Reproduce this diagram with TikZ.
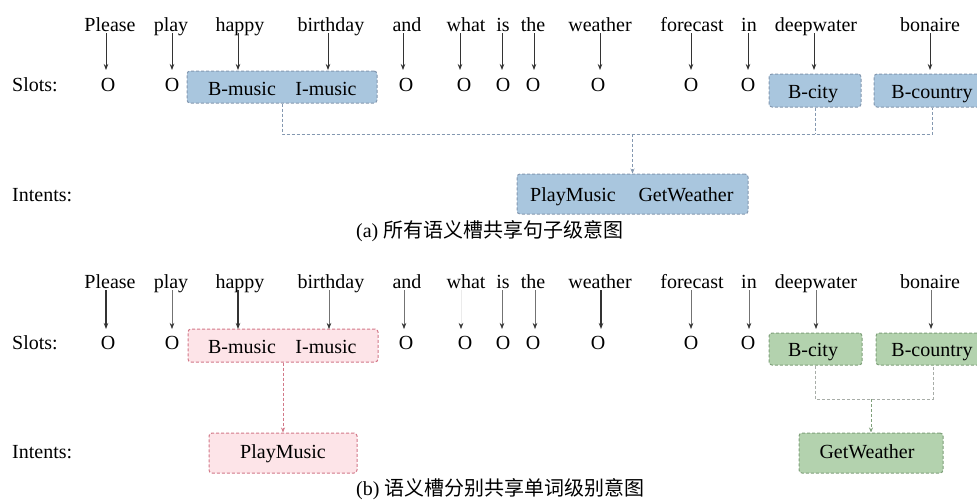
\documentclass[tikz,border=0pt]{standalone}
\usepackage{fontspec}
\setmainfont{Liberation Serif}
\newfontfamily\cjk{Noto Sans CJK SC}
\usetikzlibrary{arrows.meta}
\definecolor{bluefill}{HTML}{A9C6DE}
\definecolor{blueline}{HTML}{8498B0}
\definecolor{pinkfill}{HTML}{FDE4E8}
\definecolor{pinkline}{HTML}{D27888}
\definecolor{greenfill}{HTML}{B3D2AE}
\definecolor{greenline}{HTML}{7FA07A}
\definecolor{greyline}{HTML}{A8ADA8}
\definecolor{arrcol}{HTML}{333333}
\tikzset{
  x=1pt, y=-1pt,
  every node/.style={font=\fontsize{20}{22}\selectfont, inner sep=0pt},
  word/.style={anchor=base, text depth=2pt},
  lbl/.style={anchor=base},
  lbox/.style={rounded corners=3pt, dashed, dash pattern=on 3pt off 2pt, line width=1pt, inner sep=0pt},
  bluebox/.style={lbox, draw=blueline, fill=bluefill},
  pinkbox/.style={lbox, draw=pinkline, fill=pinkfill},
  greenbox/.style={lbox, draw=greenline, fill=greenfill},
  arr/.style={draw=arrcol, line width=0.8pt, -{Stealth[length=6pt,width=4.5pt]}},
  thickarr/.style={arr, line width=1.3pt},
  thinarr/.style={draw=black!55, line width=0.6pt, -{Stealth[length=6pt,width=4.5pt,color=arrcol]}},
  ghostarr/.style={draw=black!8, line width=0.6pt, -{Stealth[length=6pt,width=4.5pt,color=arrcol]}},
  conn/.style={dashed, dash pattern=on 3pt off 2pt, line width=1pt},
}
\begin{document}
\begin{tikzpicture}
\useasboundingbox (0,0) rectangle (977,499);
\clip (0,0) rectangle (977,499);
\fill[white] (0,0) rectangle (977,499);

% ---------------- (a) ----------------
\node[bluebox, minimum width=190pt, minimum height=32pt] (musicA) at (282,87) {};
\node[bluebox, minimum width=92pt, minimum height=33pt] (cityA) at (815,90.5) {};
\node[bluebox, minimum width=116pt, minimum height=33pt] (countryA) at (932,90.5) {};
\node[bluebox, minimum width=231pt, minimum height=40pt] (intentA) at (632.5,194) {};

\node[word] (a1) at (110,31) {Please};
\node[word] (a2) at (171,31) {play};
\node[word] (a3) at (240,31) {happy};
\node[word] (a4) at (331,31) {birthday};
\node[word] (a5) at (407,31) {and};
\node[word] (a6) at (466,31) {what};
\node[word] (a7) at (503,31) {is};
\node[word] (a8) at (533,31) {the};
\node[word] (a9) at (600,31) {weather};
\node[word] (a10) at (692,31) {forecast};
\node[word] (a11) at (749,31) {in};
\node[word] (a12) at (816,31) {deepwater};
\node[word] (a13) at (930,31) {bonaire};

\node[lbl, anchor=base west] (slotsA) at (12,91) {Slots:};
\node[lbl] (oa1) at (108,91) {O};
\node[lbl] (oa2) at (172,91) {O};
\node[lbl] (ba3) at (242,95) {B-music};
\node[lbl] (ba4) at (326,95) {I-music};
\node[lbl] (oa5) at (406,91) {O};
\node[lbl] (oa6) at (464,91) {O};
\node[lbl] (oa7) at (503,91) {O};
\node[lbl] (oa8) at (533,91) {O};
\node[lbl] (oa9) at (598,91) {O};
\node[lbl] (oa10) at (691,91) {O};
\node[lbl] (oa11) at (748,91) {O};
\node[lbl] (ba12) at (813,98) {B-city};
\node[lbl] (ba13) at (932,98) {B-country};

\node[lbl, anchor=base west] (intentsA) at (12,201) {Intents:};
\node[lbl] (pmA) at (573,201) {PlayMusic};
\node[lbl] (gwA) at (686,201) {GetWeather};

\coordinate (tipA) at (0,70);
\foreach \w/\x in {a1/106,a2/172,a3/238,a4/328,a5/403,a6/460,a7/502,a8/534,a9/600,a10/691,a11/748,a12/814,a13/930}
  \draw[arr] (\x,0 |- \w.south) -- (\x,0 |- tipA);

\coordinate (hA) at (0,134);
\draw[conn, draw=blueline] (musicA.south) -- (musicA.south |- hA) -- (countryA.south |- hA) -- (countryA.south);
\draw[conn, draw=blueline] (cityA.south) -- (cityA.south |- hA);
\draw[conn, draw=blueline, -{Stealth[length=5pt,width=4pt]}] (intentA.north |- hA) -- (intentA.north);

\node[lbl, anchor=base west] (capA) at (356,237) {(a) {\cjk 所有语义槽共享句子级意图}};

% ---------------- (b) ----------------
\node[pinkbox, minimum width=190pt, minimum height=33pt] (musicB) at (283,345.5) {};
\node[greenbox, minimum width=93pt, minimum height=32pt] (cityB) at (815.5,349) {};
\node[greenbox, minimum width=114pt, minimum height=32pt] (countryB) at (933,349) {};
\node[pinkbox, minimum width=148pt, minimum height=40pt] (playB) at (283,453) {};
\node[greenbox, minimum width=144pt, minimum height=40pt] (getB) at (871,453) {};

\node[word] (b1) at (110,288) {Please};
\node[word] (b2) at (171,288) {play};
\node[word] (b3) at (240,288) {happy};
\node[word] (b4) at (331,288) {birthday};
\node[word] (b5) at (407,288) {and};
\node[word] (b6) at (466,288) {what};
\node[word] (b7) at (503,288) {is};
\node[word] (b8) at (533,288) {the};
\node[word] (b9) at (600,288) {weather};
\node[word] (b10) at (692,288) {forecast};
\node[word] (b11) at (749,288) {in};
\node[word] (b12) at (816,288) {deepwater};
\node[word] (b13) at (930,288) {bonaire};

\node[lbl, anchor=base west] (slotsB) at (12,349) {Slots:};
\node[lbl] (ob1) at (108,349) {O};
\node[lbl] (ob2) at (172,349) {O};
\node[lbl] (bb3) at (242,353) {B-music};
\node[lbl] (bb4) at (326,353) {I-music};
\node[lbl] (ob5) at (406,349) {O};
\node[lbl] (ob6) at (465,349) {O};
\node[lbl] (ob7) at (503,349) {O};
\node[lbl] (ob8) at (533,349) {O};
\node[lbl] (ob9) at (598,349) {O};
\node[lbl] (ob10) at (691,349) {O};
\node[lbl] (ob11) at (748,349) {O};
\node[lbl] (bb12) at (813,356) {B-city};
\node[lbl] (bb13) at (932,356) {B-country};

\node[lbl, anchor=base west] (intentsB) at (12,458) {Intents:};
\node[lbl] (pmB) at (283,458) {PlayMusic};
\node[lbl] (gwB) at (867,458) {GetWeather};

\coordinate (tipB) at (0,329);
\foreach \w/\x in {b1/106,b3/238,b9/601}
  \draw[thickarr] (\x,0 |- \w.south) -- (\x,0 |- tipB);
\foreach \w/\x in {b2/172,b4/329,b5/404,b7/502,b8/535,b10/691,b11/749,b12/816,b13/931}
  \draw[thinarr] (\x,0 |- \w.south) -- (\x,0 |- tipB);
\draw[ghostarr] (461,0 |- b6.south) -- (461,0 |- tipB);

\draw[conn, draw=pinkline, -{Stealth[length=5pt,width=4pt]}] (musicB.south) -- (playB.north);

\coordinate (hB) at (0,399);
\draw[conn, draw=greyline] (cityB.south) -- (cityB.south |- hB) -- (countryB.south |- hB) -- (countryB.south);
\draw[conn, draw=greenline, -{Stealth[length=5pt,width=4pt]}] (getB.north |- hB) -- (getB.north);

\node[lbl, anchor=base west] (capB) at (356,495) {(b) {\cjk 语义槽分别共享单词级别意图}};
\end{tikzpicture}
\end{document}
